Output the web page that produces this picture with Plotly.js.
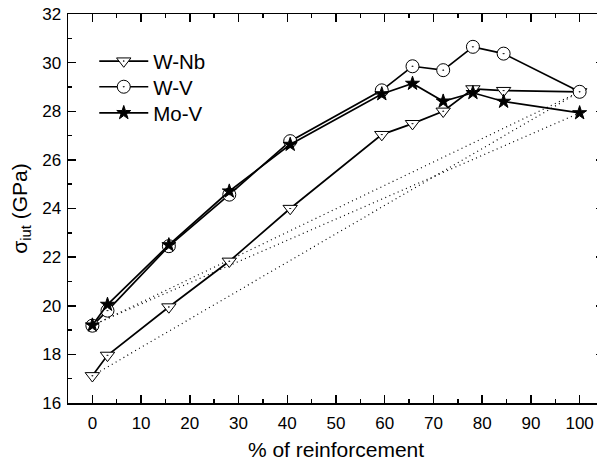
<!DOCTYPE html>
<html>
<head>
<meta charset="utf-8">
<script src="https://cdn.plot.ly/plotly-3.0.1.min.js"></script>
<style>
html, body { margin: 0; padding: 0; overflow: hidden; background: #fff; }
#chart { width: 604px; height: 461px; }
</style>
</head>
<body>
<div id="chart"></div>
<script>
// Data
const reinforcement = [0, 3.1, 15.7, 28.1, 40.6, 59.4, 65.7, 72, 78.1, 84.4, 100];
const seriesNames = ["W-Nb", "W-V", "Mo-V"];
const wNb = [17.12, 17.96, 19.95, 21.83, 24.0, 27.04, 27.49, 28.0, 28.92, 28.85, 28.8];
const wV  = [19.18, 19.8, 22.45, 24.57, 26.77, 28.86, 29.85, 29.69, 30.65, 30.37, 28.8];
const moV = [19.2, 20.05, 22.5, 24.71, 26.63, 28.71, 29.14, 28.41, 28.76, 28.4, 27.93];
const xTickVals = [0, 10, 20, 30, 40, 50, 60, 70, 80, 90, 100];
const yTickVals = [16, 18, 20, 22, 24, 26, 28, 30, 32];

const allSeries = [wNb, wV, moV];
const symbols = ["triangle-down-dot", "circle-dot", "star"];
const fills = ["#ffffff", "#ffffff", "#000000"];
const sizes = [12.5, 13, 10.5];
const legendIds = ["legend", "legend2", "legend3"];
const legendY = [0.930, 0.864, 0.797];

const traces = [];
// rule-of-mixtures dotted lines (first to last point of each series)
allSeries.forEach(function (s) {
  const n = reinforcement.length - 1;
  traces.push({
    x: [reinforcement[0], reinforcement[n]],
    y: [s[0], s[n]],
    mode: "lines",
    line: { color: "#000", width: 1.2, dash: "1px,3.5px" },
    showlegend: false,
    hoverinfo: "skip"
  });
});
allSeries.forEach(function (s, i) {
  traces.push({
    x: reinforcement,
    y: s,
    name: seriesNames[i],
    legend: legendIds[i],
    mode: "lines+markers",
    line: { color: "#000", width: 1.7 },
    marker: { symbol: symbols[i], size: sizes[i], color: fills[i], line: { color: "#000", width: 1 } }
  });
});

const font = "Liberation Sans, Arial, sans-serif";
function legendBox(y) {
  return {
    x: 0.049, y: y, xanchor: "left", yanchor: "top",
    bgcolor: "rgba(0,0,0,0)",
    font: { family: font, size: 20.5, color: "#000" },
    itemwidth: 49
  };
}
const layout = {
  width: 604,
  height: 461,
  margin: { l: 68, r: 0, t: 14, b: 58 },
  paper_bgcolor: "#fff",
  plot_bgcolor: "#fff",
  font: { family: font, color: "#000", size: 17 },
  showlegend: true,
  legend: legendBox(legendY[0]),
  legend2: legendBox(legendY[1]),
  legend3: legendBox(legendY[2]),
  xaxis: {
    range: [-5, 105],
    tickvals: xTickVals,
    ticks: "inside", ticklen: 8, tickwidth: 1.5, tickcolor: "#000",
    minor: { dtick: 5, tick0: 0, ticks: "inside", ticklen: 4, tickwidth: 1.5, tickcolor: "#000" },
    showline: true, linecolor: "#000", linewidth: 1.5, mirror: "allticks",
    showgrid: false, zeroline: false,
    tickfont: { family: font, size: 17 },
    ticklabelstandoff: 4,
    title: { text: "% of reinforcement", font: { family: font, size: 21 }, standoff: 11 }
  },
  yaxis: {
    range: [16, 32],
    tickvals: yTickVals,
    ticks: "inside", ticklen: 8, tickwidth: 1.5, tickcolor: "#000",
    minor: { dtick: 1, tick0: 0, ticks: "inside", ticklen: 4, tickwidth: 1.5, tickcolor: "#000" },
    showline: true, linecolor: "#000", linewidth: 1.5, mirror: "allticks",
    showgrid: false, zeroline: false,
    tickfont: { family: font, size: 17 },
    ticklabelstandoff: 2,
    title: { text: "σ<sub>iut</sub> (GPa)", font: { family: font, size: 21 }, standoff: 9 }
  }
};

Plotly.newPlot("chart", traces, layout, { displayModeBar: false, staticPlot: true });
</script>
</body>
</html>
